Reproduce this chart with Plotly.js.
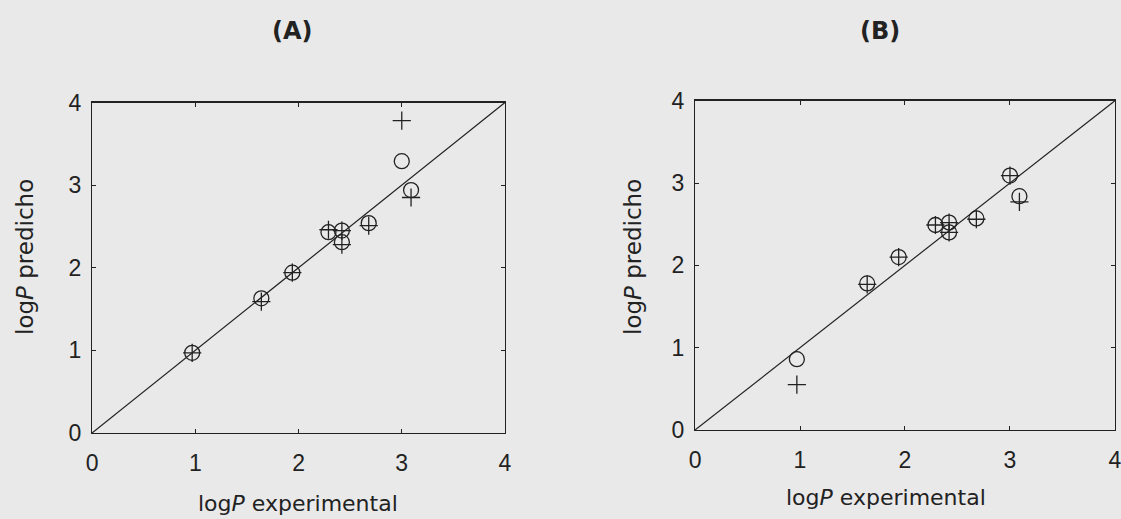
<!DOCTYPE html>
<html>
<head>
<meta charset="utf-8">
<script src="https://cdn.plot.ly/plotly-3.0.1.min.js"></script>
<style>
  html, body { margin: 0; padding: 0; background: #e9e9e9; }
  #chart { width: 1121px; height: 519px; }
</style>
</head>
<body>
<div id="chart"></div>
<script>
// Experimental log P of the nine compounds (shared by both panels)
const logPExp = [0.97, 1.64, 1.94, 2.29, 2.42, 2.42, 2.68, 3.00, 3.09];

// Panel (A): predictions of the two models
const predA_circle = [0.97, 1.63, 1.94, 2.43, 2.45, 2.31, 2.54, 3.29, 2.94];
const predA_plus   = [0.97, 1.59, 1.94, 2.46, 2.45, 2.28, 2.51, 3.78, 2.85];

// Panel (B): predictions of the two models
const predB_circle = [0.86, 1.78, 2.10, 2.49, 2.52, 2.40, 2.57, 3.09, 2.84];
const predB_plus   = [0.55, 1.77, 2.10, 2.49, 2.52, 2.40, 2.56, 3.09, 2.77];

// Identity line y = x
const identity = [0, 4];
const tickVals = [0, 1, 2, 3, 4];
const tickText = ['0', '1', '2', '3', '4'];

const ink = '#222222';
const bg = '#e9e9e9';

function circles(y, xa, ya) {
  return {
    x: logPExp, y: y, xaxis: xa, yaxis: ya, type: 'scatter', mode: 'markers',
    marker: { symbol: 'circle-open', size: 15, color: ink, line: { width: 1.3, color: ink } },
    hoverinfo: 'x+y', showlegend: false
  };
}
function pluses(y, xa, ya) {
  return {
    x: logPExp, y: y, xaxis: xa, yaxis: ya, type: 'scatter', mode: 'markers',
    marker: { symbol: 'cross-thin-open', size: 13, color: ink, line: { width: 1.3, color: ink } },
    hoverinfo: 'x+y', showlegend: false
  };
}
function diag(xa, ya) {
  return {
    x: identity, y: identity, xaxis: xa, yaxis: ya, type: 'scatter', mode: 'lines',
    line: { color: ink, width: 1.2 }, hoverinfo: 'skip', showlegend: false
  };
}

const traces = [
  diag('x', 'y'), circles(predA_circle, 'x', 'y'), pluses(predA_plus, 'x', 'y'),
  diag('x2', 'y2'), circles(predB_circle, 'x2', 'y2'), pluses(predB_plus, 'x2', 'y2')
];

function axis(domain, anchor, isX) {
  return {
    domain: domain, anchor: anchor, range: [0, 4], fixedrange: true,
    tickmode: 'array', tickvals: tickVals, ticktext: tickText,
    ticks: 'inside', ticklen: 4, tickwidth: 1, tickcolor: ink,
    showline: true, linecolor: ink, linewidth: 1.2, mirror: 'ticks',
    showgrid: false, zeroline: false,
    ticklabeloverflow: 'allow',
    ticklabelstandoff: isX ? 9 : 5,
    tickfont: { family: 'Liberation Sans, Arial, sans-serif', size: 23, color: ink }
  };
}

const xTitleFont = { family: 'DejaVu Sans, Verdana, sans-serif', size: 22, color: ink };
const yTitleFont = { family: 'DejaVu Sans, Verdana, sans-serif', size: 23, color: ink };
const panelFont = { family: 'DejaVu Sans, Verdana, sans-serif', size: 24, color: ink };

const layout = {
  width: 1121, height: 519,
  margin: { l: 0, r: 0, t: 0, b: 0 },
  paper_bgcolor: bg, plot_bgcolor: bg,
  showlegend: false,
  xaxis: axis([0.0821, 0.4505], 'y', true),
  yaxis: axis([0.1657, 0.8025], 'x', false),
  xaxis2: axis([0.620, 0.9946], 'y2', true),
  yaxis2: axis([0.1715, 0.806], 'x2', false),
  annotations: [
    { text: '<b>(A)</b>', xref: 'paper', yref: 'paper', x: 292 / 1121, y: 1 - 31 / 519,
      showarrow: false, xanchor: 'center', yanchor: 'middle', font: panelFont },
    { text: '<b>(B)</b>', xref: 'paper', yref: 'paper', x: 880 / 1121, y: 1 - 31 / 519,
      showarrow: false, xanchor: 'center', yanchor: 'middle', font: panelFont },
    { text: 'log<i>P</i> experimental', xref: 'paper', yref: 'paper', x: 298 / 1121, y: 1 - 503 / 519,
      showarrow: false, xanchor: 'center', yanchor: 'middle', font: xTitleFont },
    { text: 'log<i>P</i> experimental', xref: 'paper', yref: 'paper', x: 886 / 1121, y: 1 - 497 / 519,
      showarrow: false, xanchor: 'center', yanchor: 'middle', font: xTitleFont },
    { text: 'log<i>P</i> predicho', xref: 'paper', yref: 'paper', x: 25 / 1121, y: 1 - 257 / 519,
      showarrow: false, xanchor: 'center', yanchor: 'middle', textangle: -90, font: yTitleFont },
    { text: 'log<i>P</i> predicho', xref: 'paper', yref: 'paper', x: 633 / 1121, y: 1 - 257 / 519,
      showarrow: false, xanchor: 'center', yanchor: 'middle', textangle: -90, font: yTitleFont }
  ]
};

Plotly.newPlot('chart', traces, layout, { staticPlot: true, displayModeBar: false });
</script>
</body>
</html>
